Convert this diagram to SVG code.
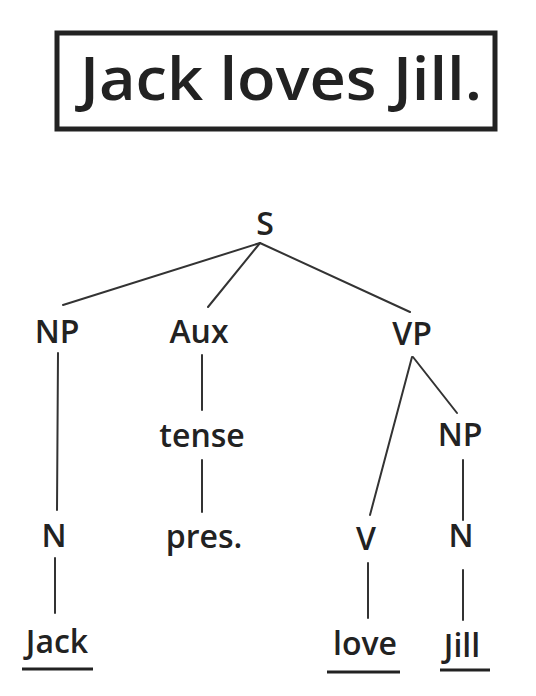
<svg xmlns="http://www.w3.org/2000/svg" width="536" height="696" viewBox="0 0 536 696">
<style>
.lbl{font-family:"Open Sans","Liberation Sans",sans-serif;font-size:32px;fill:#222;text-anchor:middle;font-weight:600}
.ttl{font-family:"Open Sans","Liberation Sans",sans-serif;font-size:60px;fill:#222;font-weight:600}
.edge{stroke:#333;stroke-width:2;fill:none;stroke-linecap:round}
.ul{stroke:#222;stroke-width:3}
</style>
<rect width="536" height="696" fill="#fff"/>
<g id="title">
<rect x="57" y="33" width="438" height="96" fill="none" stroke="#222" stroke-width="5"/>
<text class="ttl" x="80" y="100" textLength="402" lengthAdjust="spacingAndGlyphs">Jack loves Jill.</text>
</g>
<g id="connectors">
<line class="edge" x1="260" y1="243" x2="63" y2="305"/>
<line class="edge" x1="260" y1="243" x2="208" y2="307"/>
<line class="edge" x1="260" y1="243" x2="410" y2="312"/>
<line class="edge" x1="58" y1="353" x2="57" y2="510"/>
<line class="edge" x1="202" y1="355" x2="202" y2="410"/>
<line class="edge" x1="202" y1="460" x2="202" y2="512"/>
<line class="edge" x1="55" y1="558" x2="55" y2="613"/>
<line class="edge" x1="412" y1="357" x2="370" y2="515"/>
<line class="edge" x1="413" y1="357" x2="457" y2="413"/>
<line class="edge" x1="463" y1="460" x2="463" y2="520"/>
<line class="edge" x1="463" y1="570" x2="463" y2="620"/>
<line class="edge" x1="368" y1="563" x2="368" y2="618"/>
</g>
<g id="S"><text class="lbl" x="265" y="235">S</text></g>
<g id="NP1"><text class="lbl" x="57" y="343">NP</text></g>
<g id="Aux"><text class="lbl" x="199" y="343">Aux</text></g>
<g id="VP"><text class="lbl" x="412" y="345">VP</text></g>
<g id="tense"><text class="lbl" x="202" y="447">tense</text></g>
<g id="NP2"><text class="lbl" x="460" y="446">NP</text></g>
<g id="N1"><text class="lbl" x="54" y="547">N</text></g>
<g id="pres"><text class="lbl" x="204" y="548">pres.</text></g>
<g id="V"><text class="lbl" x="366" y="550">V</text></g>
<g id="N2"><text class="lbl" x="461" y="547">N</text></g>
<g id="Jack"><text class="lbl" x="57" y="653">Jack</text><line class="ul" x1="22" y1="669" x2="93" y2="669"/></g>
<g id="love"><text class="lbl" x="365" y="655">love</text><line class="ul" x1="327" y1="672" x2="400" y2="672"/></g>
<g id="Jill"><text class="lbl" x="462" y="657">Jill</text><line class="ul" x1="440" y1="670" x2="490" y2="670" stroke="#555" stroke-width="4"/></g>
</svg>
